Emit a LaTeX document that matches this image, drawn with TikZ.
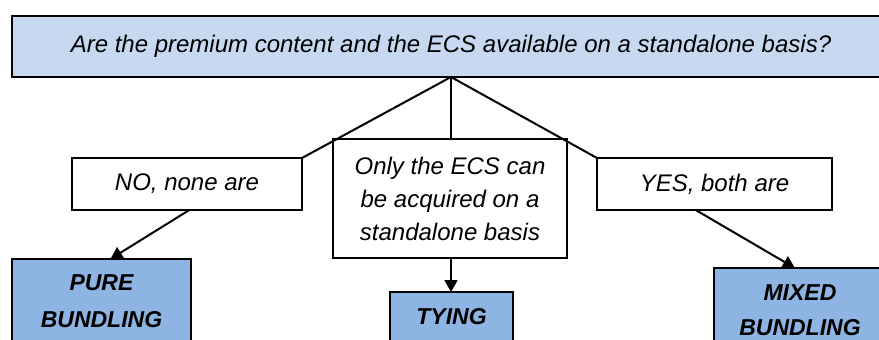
\documentclass[tikz,border=0pt]{standalone}
\usepackage{fontspec}
\setmainfont{Liberation Sans}
\usetikzlibrary{arrows.meta,calc}
\definecolor{qfill}{HTML}{C6D9F1}
\definecolor{leaffill}{HTML}{8EB4E3}
\tikzset{
  box/.style={draw=black, line width=2pt, inner sep=0pt, outer sep=0pt, align=center},
  qbox/.style={box, fill=qfill, line width=2.6pt, font=\fontsize{24}{27}\selectfont\itshape},
  ansbox/.style={box, fill=white, font=\fontsize{24}{33}\selectfont\itshape},
  leaf/.style={box, fill=leaffill, font=\fontsize{23}{35}\selectfont\bfseries\itshape},
  conn/.style={line width=2pt, line cap=round},
  arr/.style={line width=2pt, -{Triangle[width=13pt,length=12pt]}}
}
\begin{document}
\begin{tikzpicture}[x=1pt,y=-1pt]
\useasboundingbox (0,0) rectangle (879,340);
\node[qbox, minimum width=878pt, minimum height=61pt] (q) at (451,46.5)
  {\raisebox{4pt}{Are the premium content and the ECS available on a standalone basis?}};
\node[ansbox, minimum width=230pt, minimum height=52pt] (no) at (187,184) {NO, none are};
\node[ansbox, minimum width=234pt, minimum height=119pt] (only) at (450,198.5)
  {Only the ECS can\\be acquired on a\\standalone basis};
\node[ansbox, minimum width=235pt, minimum height=52pt] (yes) at (714.5,184) {YES, both are};
\node[leaf, minimum width=179pt, minimum height=85pt] (pure) at (101.5,301.5) {\raisebox{2pt}{PURE}\\BUNDLING};
\node[leaf, minimum width=123pt, minimum height=50pt] (tying) at (451.5,317) {TYING};
\node[leaf, minimum width=172pt, minimum height=84pt] (mixed) at (800,310) {MIXED\\BUNDLING};
\coordinate (apex) at (451,77);
\draw[conn] (no.north east) -- (apex) -- (yes.north west);
\draw[conn] (apex) -- (apex |- only.north);
\draw[arr] ($(no.south west)!0.51!(no.south east)$) -- ($(pure.north west)!0.55!(pure.north east)$);
\draw[arr] (only.south -| apex) -- (tying.north -| apex);
\draw[arr] ($(yes.south west)!0.42!(yes.south east)$) -- ($(mixed.north west)!0.47!(mixed.north east)$);
\end{tikzpicture}
\end{document}
